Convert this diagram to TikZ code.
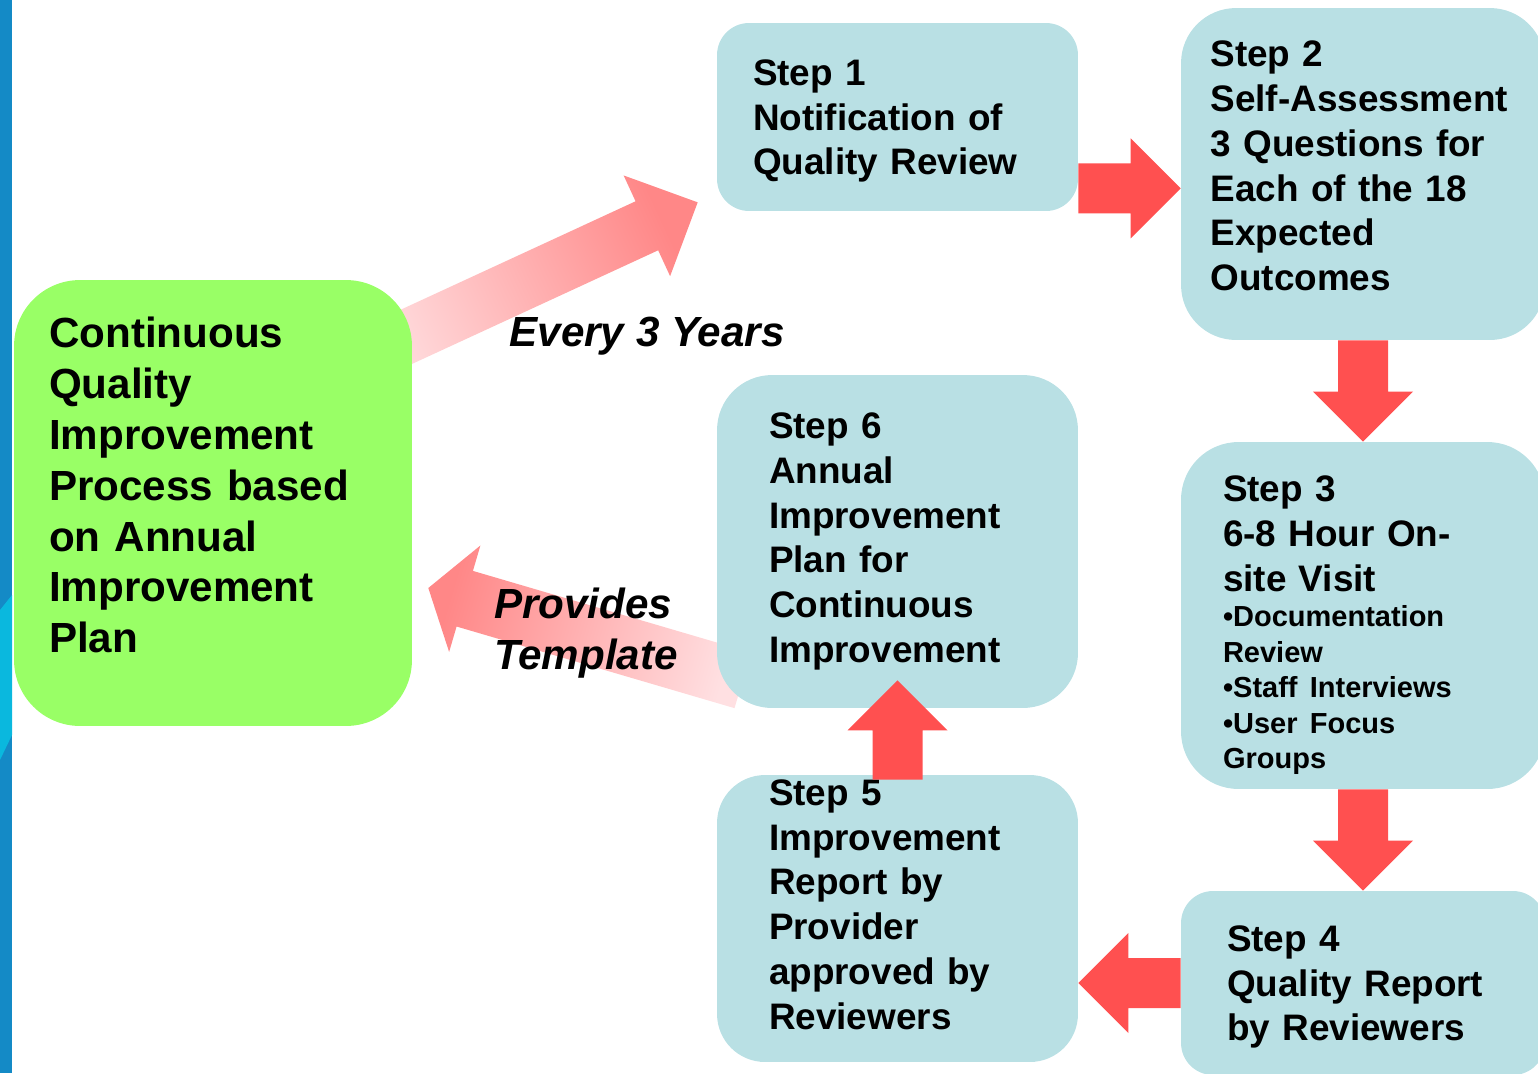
\documentclass[tikz,border=0pt]{standalone}
\usepackage{fontspec}
\setmainfont{Liberation Sans}
\usetikzlibrary{calc,positioning,backgrounds}

\definecolor{boxblue}{RGB}{185,224,228}
\definecolor{cqgreen}{RGB}{153,255,102}
\definecolor{arrowred}{RGB}{255,80,80}
\definecolor{pinklight}{RGB}{255,224,226}
\definecolor{pinkdark}{RGB}{255,135,135}
\definecolor{stripblue}{RGB}{20,138,198}
\definecolor{stripcyan}{RGB}{10,184,222}

\newcommand{\stepfont}{\fontsize{21}{25.5}\selectfont\bfseries}
\newcommand{\bulletfont}{\fontsize{16.5}{20.2}\selectfont\bfseries}
\newcommand{\cqfont}{\fontsize{24}{29}\selectfont\bfseries}
\newcommand{\labelfont}{\fontsize{24}{29.5}\selectfont\bfseries\itshape}
% extra room below the text lines (negative: less room), moves them off centre
\newcommand{\lift}[1]{\par\vspace{#1}\nointerlineskip\null}

% block arrow: style, tail, tip, half shaft, half head, head length
\newcommand{\blockarrow}[6]{%
  \coordinate (ba-base) at ($(#3)!#6!(#2)$);
  \path[#1] ($(#2)!#4!90:(#3)$) -- ($(ba-base)!#4!90:(#3)$)
    -- ($(ba-base)!#5!90:(#3)$) -- (#3) -- ($(ba-base)!#5!-90:(#3)$)
    -- ($(ba-base)!#4!-90:(#3)$) -- ($(#2)!#4!-90:(#3)$) -- cycle;
}

\begin{document}
\begin{tikzpicture}[x=0.02cm,y=-0.02cm]
	\tikzset{stepbox/.style={fill=boxblue,inner sep=0pt,align=left,font=\stepfont,minimum width=7.22cm}}
	\tikzset{redarrow/.style={fill=arrowred}}
	\tikzset{lbl/.style={font=\labelfont,inner sep=0pt}}
	\useasboundingbox (0,0) rectangle (1538,1073);
	
	%
	% process boxes
	%
	\node [stepbox,fill=cqgreen,font=\cqfont,minimum width=7.96cm,minimum height=8.92cm,text width=6.56cm,rounded corners=1.32cm] (cq) at (213,503)
		{Continuous\\Quality\\Improvement\\Process based\\on Annual\\Improvement\\Plan\lift{0.72cm}};
	\node [stepbox,minimum height=3.76cm,text width=5.78cm,rounded corners=0.64cm] (s1) at (897.5,117)
		{Step 1\\Notification of\\Quality Review\lift{-0.16cm}};
	\node [stepbox,minimum width=7.28cm,minimum height=6.64cm,text width=6.1cm,rounded corners=1.1cm] (s2) at (1363,174)
		{Step 2\\Self-Assessment\\3 Questions for\\Each of the 18\\Expected\\Outcomes\lift{0.32cm}};
	\node [stepbox,minimum width=7.28cm,minimum height=6.94cm,text width=5.6cm,rounded corners=1.15cm] (s3) at (1363,615.5)
		{Step 3\\6-8 Hour On-\\site Visit\par
		\bulletfont\noindent •Documentation\\Review\\•Staff Interviews\\•User Focus\\Groups\lift{-0.4cm}};
	\node [stepbox,minimum width=7.28cm,minimum height=3.68cm,text width=5.44cm,rounded corners=0.64cm] (s4) at (1363,983)
		{Step 4\\Quality Report\\by Reviewers\lift{-0.16cm}};
	\node [stepbox,minimum height=5.74cm,text width=5.14cm,rounded corners=0.96cm] (s5) at (897.5,918.5)
		{Step 5\\Improvement\\Report by\\Provider\\approved by\\Reviewers\lift{0.56cm}};
	\node [stepbox,minimum height=6.66cm,text width=5.14cm,rounded corners=1.1cm] (s6) at (897.5,541.5)
		{Step 6\\Annual\\Improvement\\Plan for\\Continuous\\Improvement};
	
	%
	% cycle arrows behind the boxes
	%
	\begin{scope}[on background layer]
		\fill [stripblue] (0,0) rectangle (12,1073);
		\fill [stripcyan] (0,610) -- (12,595) -- (12,735) -- (0,760) -- cycle;
		\coordinate (every-tail) at ($(cq.north east)+(-62,83)$);
		\coordinate (every-tip) at ($(s1.south west)+(-19,-9)$);
		\blockarrow{top color=pinklight,bottom color=pinkdark,shading angle=114.9}{every-tail}{every-tip}{0.54cm}{1.11cm}{1.12cm}
		\coordinate (tmpl-tail) at ($(s6.south west)+(26,-28)$);
		\coordinate (tmpl-tip) at ($(cq.east)+(16,85)$);
		\blockarrow{top color=pinklight,bottom color=pinkdark,shading angle=-106.4}{tmpl-tail}{tmpl-tip}{0.58cm}{1.11cm}{0.76cm}
	\end{scope}
	
	\node [lbl] (every) at (647,336) {Every 3 Years};
	\node [lbl,align=left] (template) at (586,633) {Provides\\Template};
	
	%
	% step arrows
	%
	\coordinate (a12) at ($(s1.south east)+(0,-23)$);
	\coordinate (b12) at (s2.west |- a12);
	\blockarrow{redarrow}{a12}{b12}{0.5cm}{1cm}{1cm}
	\blockarrow{redarrow}{s2.south}{s3.north}{0.5cm}{1cm}{1cm}
	\blockarrow{redarrow}{s3.south}{s4.north}{0.5cm}{1cm}{1cm}
	\coordinate (b45) at (s5.east |- s4.west);
	\blockarrow{redarrow}{s4.west}{b45}{0.5cm}{1cm}{1cm}
	\coordinate (a56) at ($(s5.north)+(0,5)$);
	\coordinate (b56) at ($(s6.south)+(0,-28)$);
	\blockarrow{redarrow}{a56}{b56}{0.5cm}{1cm}{1cm}
	
\end{tikzpicture}
\end{document}
